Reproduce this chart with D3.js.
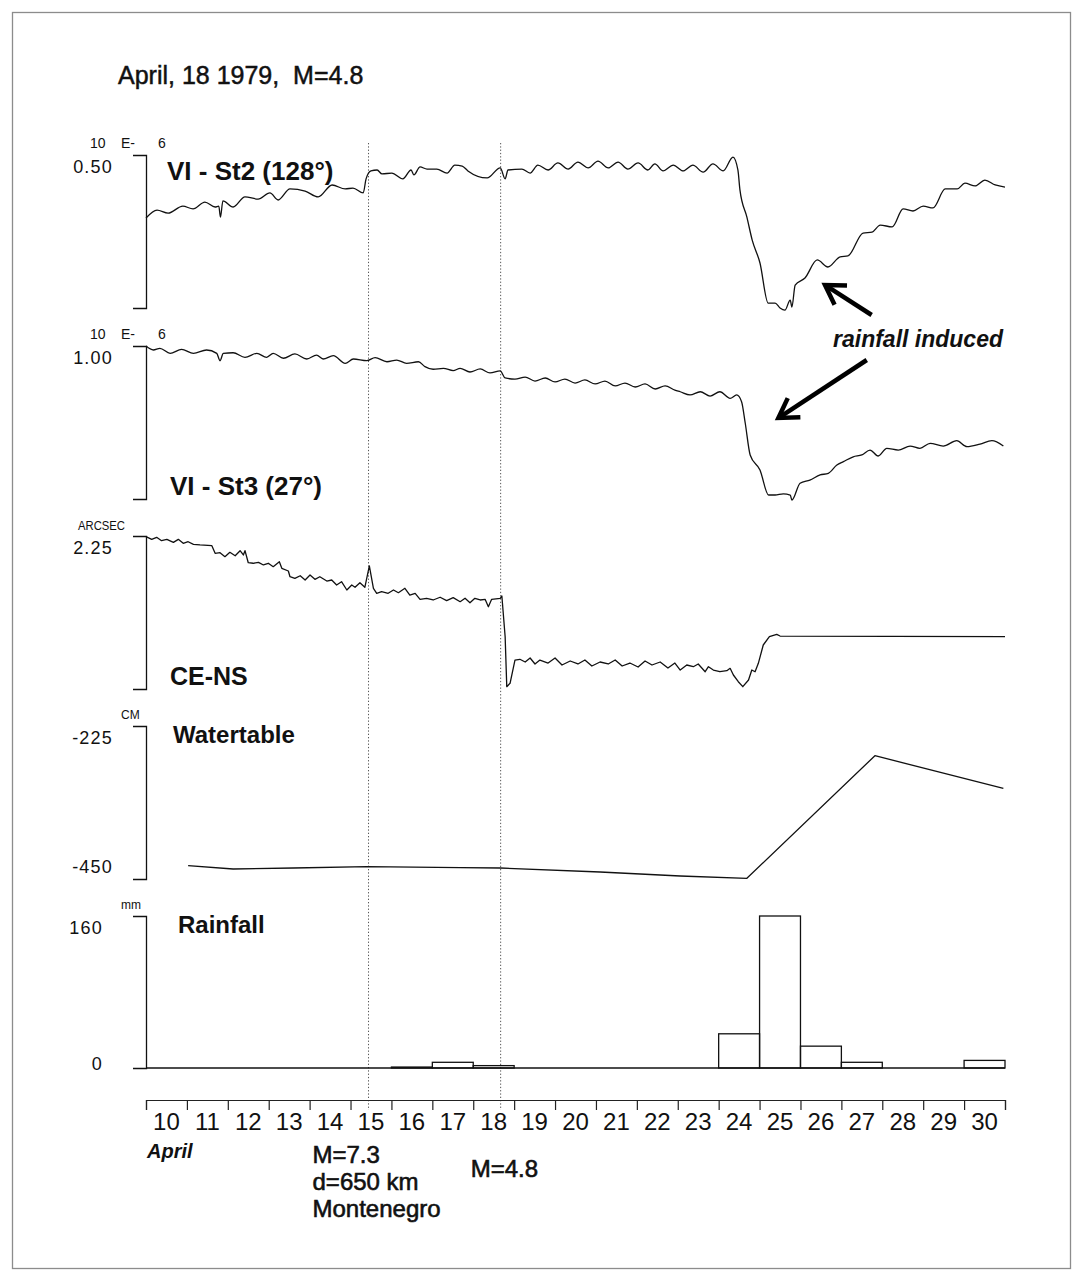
<!DOCTYPE html>
<html>
<head>
<meta charset="utf-8">
<script src="https://cdn.jsdelivr.net/npm/d3@7"></script>
<style>
  html, body { margin: 0; padding: 0; background: #fff; }
  svg { display: block; }
  text { font-family: "Liberation Sans", Arial, Helvetica, sans-serif; fill: #111; }
</style>
</head>
<body>
<svg id="chart" width="1083" height="1281"></svg>
<script>
// ---- data -------------------------------------------------------------
// Time is measured in days of April; day d covers the interval [d, d+1].
const dayLabels = ["10","11","12","13","14","15","16","17","18","19","20",
                   "21","22","23","24","25","26","27","28","29","30"];
const rainDays = [10,11,12,13,14,15,16,17,18,19,20,21,22,23,24,25,26,27,28,29,30];
const rainfallMm = [0,0,0,0,0,0,1,6,2.5,0,0,0,0,0,36,160,23,6,0,0,8];

// Strain, station VI-St2 (128°), units of 1e-6
const st2 = [
  [10.00,0.294],[10.27,0.320],[10.54,0.310],[10.90,0.333],[11.15,0.324],[11.44,0.346],
  [11.69,0.330],[11.78,0.333],[11.82,0.297],[11.88,0.350],[12.13,0.330],[12.42,0.363],
  [12.74,0.356],[13.03,0.376],[13.23,0.353],[13.52,0.389],[13.89,0.382],[14.21,0.363],
  [14.55,0.402],[14.87,0.389],[15.06,0.392],[15.31,0.376],[15.38,0.422],[15.50,0.448],
  [15.65,0.451],[15.77,0.438],[16.01,0.441],[16.28,0.422],[16.48,0.451],[16.55,0.435],
  [16.70,0.461],[16.87,0.454],[17.11,0.454],[17.36,0.441],[17.55,0.467],[17.73,0.464],
  [17.87,0.448],[18.34,0.425],[18.66,0.458],[18.78,0.422],[18.85,0.451],[19.19,0.454],
  [19.39,0.441],[19.58,0.467],[19.83,0.451],[20.07,0.474],[20.32,0.454],[20.56,0.477],
  [20.81,0.458],[21.05,0.480],[21.30,0.458],[21.54,0.477],[21.78,0.454],[22.03,0.474],
  [22.27,0.451],[22.44,0.471],[22.64,0.448],[22.89,0.467],[23.13,0.448],[23.37,0.467],
  [23.62,0.444],[23.86,0.471],[24.11,0.448],[24.35,0.493],[24.47,0.451],[24.52,0.386],
  [24.69,0.297],[24.82,0.222],[25.01,0.147],[25.21,0.016],[25.38,0.016],[25.50,0.000],
  [25.62,-0.007],[25.75,0.026],[25.79,0.003],[25.87,0.075],[26.11,0.098],[26.41,0.157],
  [26.67,0.134],[26.97,0.167],[27.16,0.170],[27.53,0.245],[27.75,0.248],[27.95,0.271],
  [28.24,0.265],[28.51,0.324],[28.75,0.317],[29.00,0.333],[29.24,0.327],[29.54,0.389],
  [29.83,0.389],[30.02,0.408],[30.27,0.399],[30.51,0.418],[30.76,0.402],[31.00,0.395]
];

// Strain, station VI-St3 (27°), units of 1e-6
const st3 = [
  [10.00,1.000],[10.18,0.974],[10.34,0.985],[10.59,0.952],[10.87,0.978],[11.16,0.952],
  [11.48,0.974],[11.73,0.952],[11.81,0.904],[11.89,0.952],[12.13,0.956],[12.42,0.926],
  [12.71,0.952],[12.95,0.926],[13.11,0.952],[13.36,0.920],[13.64,0.948],[13.93,0.915],
  [14.17,0.941],[14.33,0.915],[14.58,0.937],[14.87,0.887],[15.07,0.915],[15.40,0.904],
  [15.60,0.924],[15.89,0.897],[16.13,0.908],[16.37,0.887],[16.66,0.897],[16.82,0.865],
  [17.02,0.848],[17.27,0.854],[17.51,0.839],[17.68,0.854],[17.92,0.830],[18.17,0.850],
  [18.41,0.824],[18.66,0.837],[18.78,0.791],[19.02,0.784],[19.27,0.797],[19.51,0.771],
  [19.76,0.791],[20.00,0.765],[20.24,0.784],[20.49,0.758],[20.73,0.778],[20.98,0.752],
  [21.22,0.771],[21.47,0.739],[21.71,0.758],[21.96,0.732],[22.20,0.752],[22.45,0.719],
  [22.69,0.739],[22.93,0.712],[23.06,0.701],[23.30,0.680],[23.55,0.701],[23.79,0.673],
  [24.03,0.701],[24.28,0.658],[24.44,0.680],[24.56,0.636],[24.65,0.495],[24.77,0.288],
  [25.01,0.190],[25.22,0.026],[25.38,0.026],[25.58,0.033],[25.75,0.026],[25.79,-0.007],
  [25.99,0.103],[26.23,0.124],[26.48,0.157],[26.68,0.168],[26.89,0.222],[27.05,0.244],
  [27.29,0.276],[27.50,0.288],[27.70,0.320],[27.90,0.281],[28.11,0.331],[28.39,0.320],
  [28.68,0.346],[28.92,0.331],[29.17,0.364],[29.49,0.346],[29.82,0.381],[30.07,0.342],
  [30.39,0.359],[30.68,0.381],[30.96,0.346]
];

// Tilt, CE-NS component, arcsec
const ceNs = [
  [10.00,2.240],[10.14,2.201],[10.26,2.231],[10.38,2.181],[10.51,2.201],[10.67,2.157],
  [10.79,2.201],[10.91,2.143],[11.03,2.166],[11.16,2.128],[11.32,2.118],[11.61,2.107],
  [11.69,1.996],[11.81,2.004],[11.93,1.946],[12.05,2.010],[12.18,1.960],[12.30,2.034],
  [12.38,1.971],[12.42,2.034],[12.50,1.857],[12.62,1.849],[12.75,1.863],[12.87,1.824],
  [12.99,1.849],[13.11,1.799],[13.26,1.872],[13.32,1.775],[13.48,1.735],[13.52,1.651],
  [13.64,1.628],[13.77,1.666],[13.89,1.603],[14.01,1.676],[14.13,1.613],[14.25,1.651],
  [14.42,1.588],[14.54,1.603],[14.66,1.529],[14.78,1.578],[14.91,1.456],[15.03,1.529],
  [15.11,1.496],[15.23,1.563],[15.35,1.496],[15.46,1.809],[15.56,1.481],[15.64,1.407],
  [15.76,1.431],[15.92,1.407],[16.05,1.456],[16.17,1.416],[16.33,1.481],[16.45,1.382],
  [16.58,1.407],[16.70,1.319],[16.86,1.334],[17.02,1.309],[17.19,1.349],[17.35,1.299],
  [17.51,1.343],[17.68,1.284],[17.80,1.334],[17.92,1.269],[18.04,1.334],[18.17,1.309],
  [18.29,1.319],[18.37,1.210],[18.45,1.319],[18.66,1.334],[18.70,1.368],[18.78,0.769],
  [18.82,0.034],[18.90,0.084],[19.02,0.426],[19.14,0.437],[19.27,0.397],[19.39,0.456],
  [19.51,0.368],[19.63,0.426],[19.83,0.382],[20.00,0.456],[20.17,0.353],[20.37,0.412],
  [20.56,0.368],[20.73,0.426],[20.90,0.338],[21.10,0.397],[21.30,0.368],[21.47,0.426],
  [21.64,0.338],[21.83,0.382],[22.03,0.324],[22.20,0.412],[22.37,0.353],[22.57,0.397],
  [22.76,0.309],[22.93,0.382],[23.06,0.279],[23.22,0.353],[23.38,0.328],[23.50,0.368],
  [23.67,0.254],[23.75,0.328],[23.87,0.279],[24.03,0.254],[24.20,0.269],[24.28,0.304],
  [24.36,0.206],[24.48,0.107],[24.59,0.034],[24.73,0.132],[24.81,0.279],[24.89,0.254],
  [24.97,0.378],[25.09,0.647],[25.24,0.769],[25.42,0.804],[25.50,0.779],[31.00,0.769]
];

// Water table depth, cm
const waterTable = [
  [11.03,-430.4],[12.13,-435.3],[13.60,-433.8],[15.40,-431.9],[17.68,-433.4],
  [18.66,-433.8],[21.10,-439.7],[23.06,-445.6],[24.69,-449.0],[27.82,-268.7],[30.96,-316.6]
];

// Earthquakes marked on the time axis
const quakeDays = [15.44, 18.67];
const quakeNotes = [["M=7.3", "d=650 km", "Montenegro"], ["M=4.8"]];

// ---- layout -----------------------------------------------------------
const svg = d3.select("#chart");
const x = d3.scaleLinear().domain([10, 31]).range([146, 1005]);

// page frame
svg.append("rect")
  .attr("x", 12.5).attr("y", 12.5).attr("width", 1058).attr("height", 1256)
  .attr("fill", "none").attr("stroke", "#8c8c8c").attr("stroke-width", 1.3);

// headline
svg.append("text")
  .attr("x", 118).attr("y", 84)
  .attr("font-size", 25).attr("stroke", "#111").attr("stroke-width", 0.5)
  .style("white-space", "pre")
  .text("April, 18 1979,  M=4.8");

// earthquake marker lines (behind the traces)
const qg = svg.append("g");
quakeDays.forEach(d => {
  qg.append("line")
    .attr("x1", x(d)).attr("x2", x(d)).attr("y1", 143).attr("y2", 1110)
    .attr("stroke", "#555").attr("stroke-width", 1).attr("stroke-dasharray", "1.3,2");
});

const panels = [
  { data: st2, smooth: true, domain: [0, 0.5], top: 155, bottom: 308,
    value: "0.50", unit: ["10", "E-", "6"], title: "VI - St2 (128°)", tx: 167, ty: 180, tsize: 26 },
  { data: st3, smooth: true, domain: [0, 1.0], top: 346, bottom: 499,
    value: "1.00", unit: ["10", "E-", "6"], title: "VI - St3 (27°)", tx: 170, ty: 495, tsize: 26 },
  { data: ceNs, domain: [0, 2.25], top: 536, bottom: 689,
    value: "2.25", unit: ["ARCSEC"], title: "CE-NS", tx: 170, ty: 685, tsize: 25 },
  { data: waterTable, domain: [-450, -225], top: 726, bottom: 879,
    value: "-225", low: "-450", unit: ["CM"], title: "Watertable", tx: 173, ty: 743, tsize: 24 },
  { bars: true, domain: [0, 160], top: 916, bottom: 1068,
    value: "160", low: "0", unit: ["mm"], title: "Rainfall", tx: 178, ty: 933, tsize: 24 }
];

panels.forEach(p => {
  const y = d3.scaleLinear().domain(p.domain).range([p.bottom, p.top]);
  const g = svg.append("g");

  // bracket-shaped scale bar
  g.append("g")
    .attr("transform", "translate(146,0)")
    .call(d3.axisLeft(y).tickValues([]).tickSizeOuter(13))
    .call(a => a.select(".domain").attr("stroke", "#111").attr("stroke-width", 1.3));

  const valX = p.bars ? 103 : 113;
  g.append("text").attr("x", valX).attr("y", y(p.domain[1]) + 17.5)
    .attr("text-anchor", "end").attr("font-size", 18).attr("letter-spacing", 1.2)
    .attr("fill", "#222").text(p.value);
  if (p.low) {
    const ly = p.bars ? y(p.domain[0]) + 2 : y(p.domain[0]) - 6;
    g.append("text").attr("x", valX).attr("y", ly)
      .attr("text-anchor", "end").attr("font-size", 18).attr("letter-spacing", 1.2)
      .attr("fill", "#222").text(p.low);
  }

  // unit caption above the bracket
  const uy = y(p.domain[1]) - 7;
  if (p.unit.length === 3) {
    [[90, p.unit[0]], [121, p.unit[1]], [158, p.unit[2]]].forEach(([ux, t]) =>
      g.append("text").attr("x", ux).attr("y", uy).attr("font-size", 14).attr("fill", "#222").text(t));
  } else if (p.unit[0] === "ARCSEC") {
    g.append("text").attr("x", 78).attr("y", uy + 1).attr("font-size", 12)
      .attr("textLength", 47).attr("lengthAdjust", "spacingAndGlyphs").attr("fill", "#222").text(p.unit[0]);
  } else {
    g.append("text").attr("x", 121).attr("y", uy).attr("font-size", 12)
      .attr("fill", "#222").text(p.unit[0]);
  }

  g.append("text").attr("x", p.tx).attr("y", p.ty)
    .attr("font-size", p.tsize).attr("font-weight", "bold").text(p.title);

  if (p.bars) {
    // zero line under the bars
    g.append("line").attr("x1", x(rainDays[0])).attr("x2", x(rainDays[rainDays.length - 1] + 1))
      .attr("y1", y(0)).attr("y2", y(0)).attr("stroke", "#111").attr("stroke-width", 1.3);
    g.selectAll("rect.bar").data(rainDays.filter((d, i) => rainfallMm[i] > 0)).join("rect")
      .attr("class", "bar")
      .attr("x", d => x(d)).attr("width", d => x(d + 1) - x(d))
      .attr("y", d => y(rainfallMm[rainDays.indexOf(d)]))
      .attr("height", d => y(0) - y(rainfallMm[rainDays.indexOf(d)]))
      .attr("fill", "none").attr("stroke", "#111").attr("stroke-width", 1.3);
  } else {
    const line = d3.line().x(d => x(d[0])).y(d => y(d[1]));
    if (p.smooth) line.curve(d3.curveMonotoneX);
    g.append("path").datum(p.data)
      .attr("d", line)
      .attr("fill", "none").attr("stroke", "#111").attr("stroke-width", 1.3)
      .attr("stroke-linejoin", "round");
  }
});

// time axis
const axisY = 1100;
svg.append("g")
  .attr("transform", `translate(0,${axisY})`)
  .call(d3.axisBottom(x).tickValues(d3.range(10, 32)).tickSize(10).tickSizeOuter(10).tickFormat(""))
  .call(a => a.selectAll("line,path").attr("stroke", "#222").attr("stroke-width", 1.2));

svg.append("g").selectAll("text").data(dayLabels).join("text")
  .attr("x", (d, i) => x(rainDays[i] + 0.5)).attr("y", 1130)
  .attr("text-anchor", "middle").attr("font-size", 24).attr("fill", "#222")
  .text(d => d);

svg.append("text").attr("x", 147).attr("y", 1158)
  .attr("font-size", 20).attr("font-weight", "bold").attr("font-style", "italic").text("April");

// earthquake notes
const noteOffsets = [{ dx: -56, y0: 1163 }, { dx: -30, y0: 1177 }];
quakeNotes.forEach((lines, i) => {
  lines.forEach((t, j) => {
    svg.append("text")
      .attr("x", x(quakeDays[i]) + noteOffsets[i].dx)
      .attr("y", noteOffsets[i].y0 + j * 27)
      .attr("font-size", 24).attr("stroke", "#111").attr("stroke-width", 0.6)
      .text(t);
  });
});

// rainfall annotation with arrows
svg.append("text").attr("x", 833).attr("y", 347)
  .attr("font-size", 23).attr("font-weight", "bold").attr("font-style", "italic")
  .text("rainfall induced");

const arrows = [
  { from: [27.74, 315], to: [26.60, 285] },
  { from: [27.62, 360], to: [25.46, 418] }
];
arrows.forEach(a => {
  const x1 = x(a.from[0]), y1 = a.from[1], x2 = x(a.to[0]), y2 = a.to[1];
  const ang = Math.atan2(y2 - y1, x2 - x1), L = 22, s = 0.55;
  svg.append("line").attr("x1", x1).attr("y1", y1)
    .attr("x2", x2 - 3 * Math.cos(ang)).attr("y2", y2 - 3 * Math.sin(ang))
    .attr("stroke", "#000").attr("stroke-width", 4.5);
  const p1 = [x2 - L * Math.cos(ang - s), y2 - L * Math.sin(ang - s)];
  const p2 = [x2 - L * Math.cos(ang + s), y2 - L * Math.sin(ang + s)];
  svg.append("path").attr("d", `M${p1}L${x2},${y2}L${p2}`)
    .attr("fill", "none").attr("stroke", "#000").attr("stroke-width", 4.5)
    .attr("stroke-linejoin", "miter");
});
</script>
</body>
</html>
